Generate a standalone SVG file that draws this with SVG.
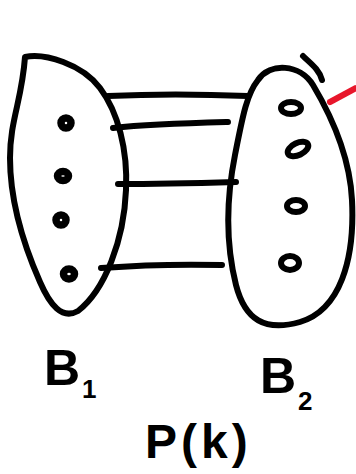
<svg xmlns="http://www.w3.org/2000/svg" width="356" height="474" viewBox="0 0 356 474">
<style>
.ink{fill:none;stroke:#000;stroke-width:6;stroke-linecap:round;stroke-linejoin:round}
.dot{fill:none;stroke:#000;stroke-width:6}
.sd{fill:none;stroke:#000;stroke-width:7.5}
.lbl{font-family:"Liberation Sans",Arial,sans-serif;font-weight:bold;fill:#000}
</style>
<rect width="356" height="474" fill="#fff"/>
<g id="B1">
<path class="ink" d="M25,57 C45,53 82,64 100,88 C118,112 128,150 126,190 C124,240 105,290 78,311 C62,320 50,305 40,282 C25,248 10,205 10,158 C10,120 22,100 25,57 Z"/>
<ellipse class="sd" cx="66" cy="123" rx="5" ry="5"/>
<ellipse class="sd" cx="63" cy="176" rx="5.5" ry="4.5"/>
<ellipse class="sd" cx="61" cy="220" rx="5" ry="5"/>
<ellipse class="sd" cx="69" cy="274" rx="5.5" ry="5"/>
</g>
<g id="B2">
<path class="ink" d="M258,80 C270,62 300,64 313,85 C335,122 350,160 352,200 C355,260 340,310 300,322 C265,332 245,320 236,285 C226,245 226,200 235,155 C242,120 246,95 258,80 Z"/>
<path class="ink" d="M303,56 C310,63 319,69 322,80"/>
<path d="M330,102 L356,88" fill="none" stroke="#e8162b" stroke-width="6" stroke-linecap="round"/>
<ellipse class="dot" cx="291" cy="108" rx="10" ry="6"/>
<ellipse class="dot" cx="298" cy="149" rx="11" ry="6" transform="rotate(-25 298 149)"/>
<ellipse class="dot" cx="296" cy="206" rx="9" ry="6"/>
<ellipse class="dot" cx="290" cy="263" rx="9" ry="7"/>
</g>
<g id="connectors">
<path class="ink" d="M108,96 C150,94 200,94 248,96"/>
<path class="ink" d="M113,128 C150,124 190,123 228,122"/>
<path class="ink" d="M118,184 C160,184 200,183 236,182"/>
<path class="ink" d="M101,268 C140,265 180,264 222,265"/>
</g>
<g id="labels">
<text class="lbl" x="44" y="385" font-size="50">B</text>
<text class="lbl" x="82" y="398" font-size="26">1</text>
<text class="lbl" x="260" y="393" font-size="50">B</text>
<text class="lbl" x="298" y="410" font-size="26">2</text>
<text class="lbl" x="145" y="458" font-size="48" letter-spacing="4">P(k)</text>
</g>
</svg>
